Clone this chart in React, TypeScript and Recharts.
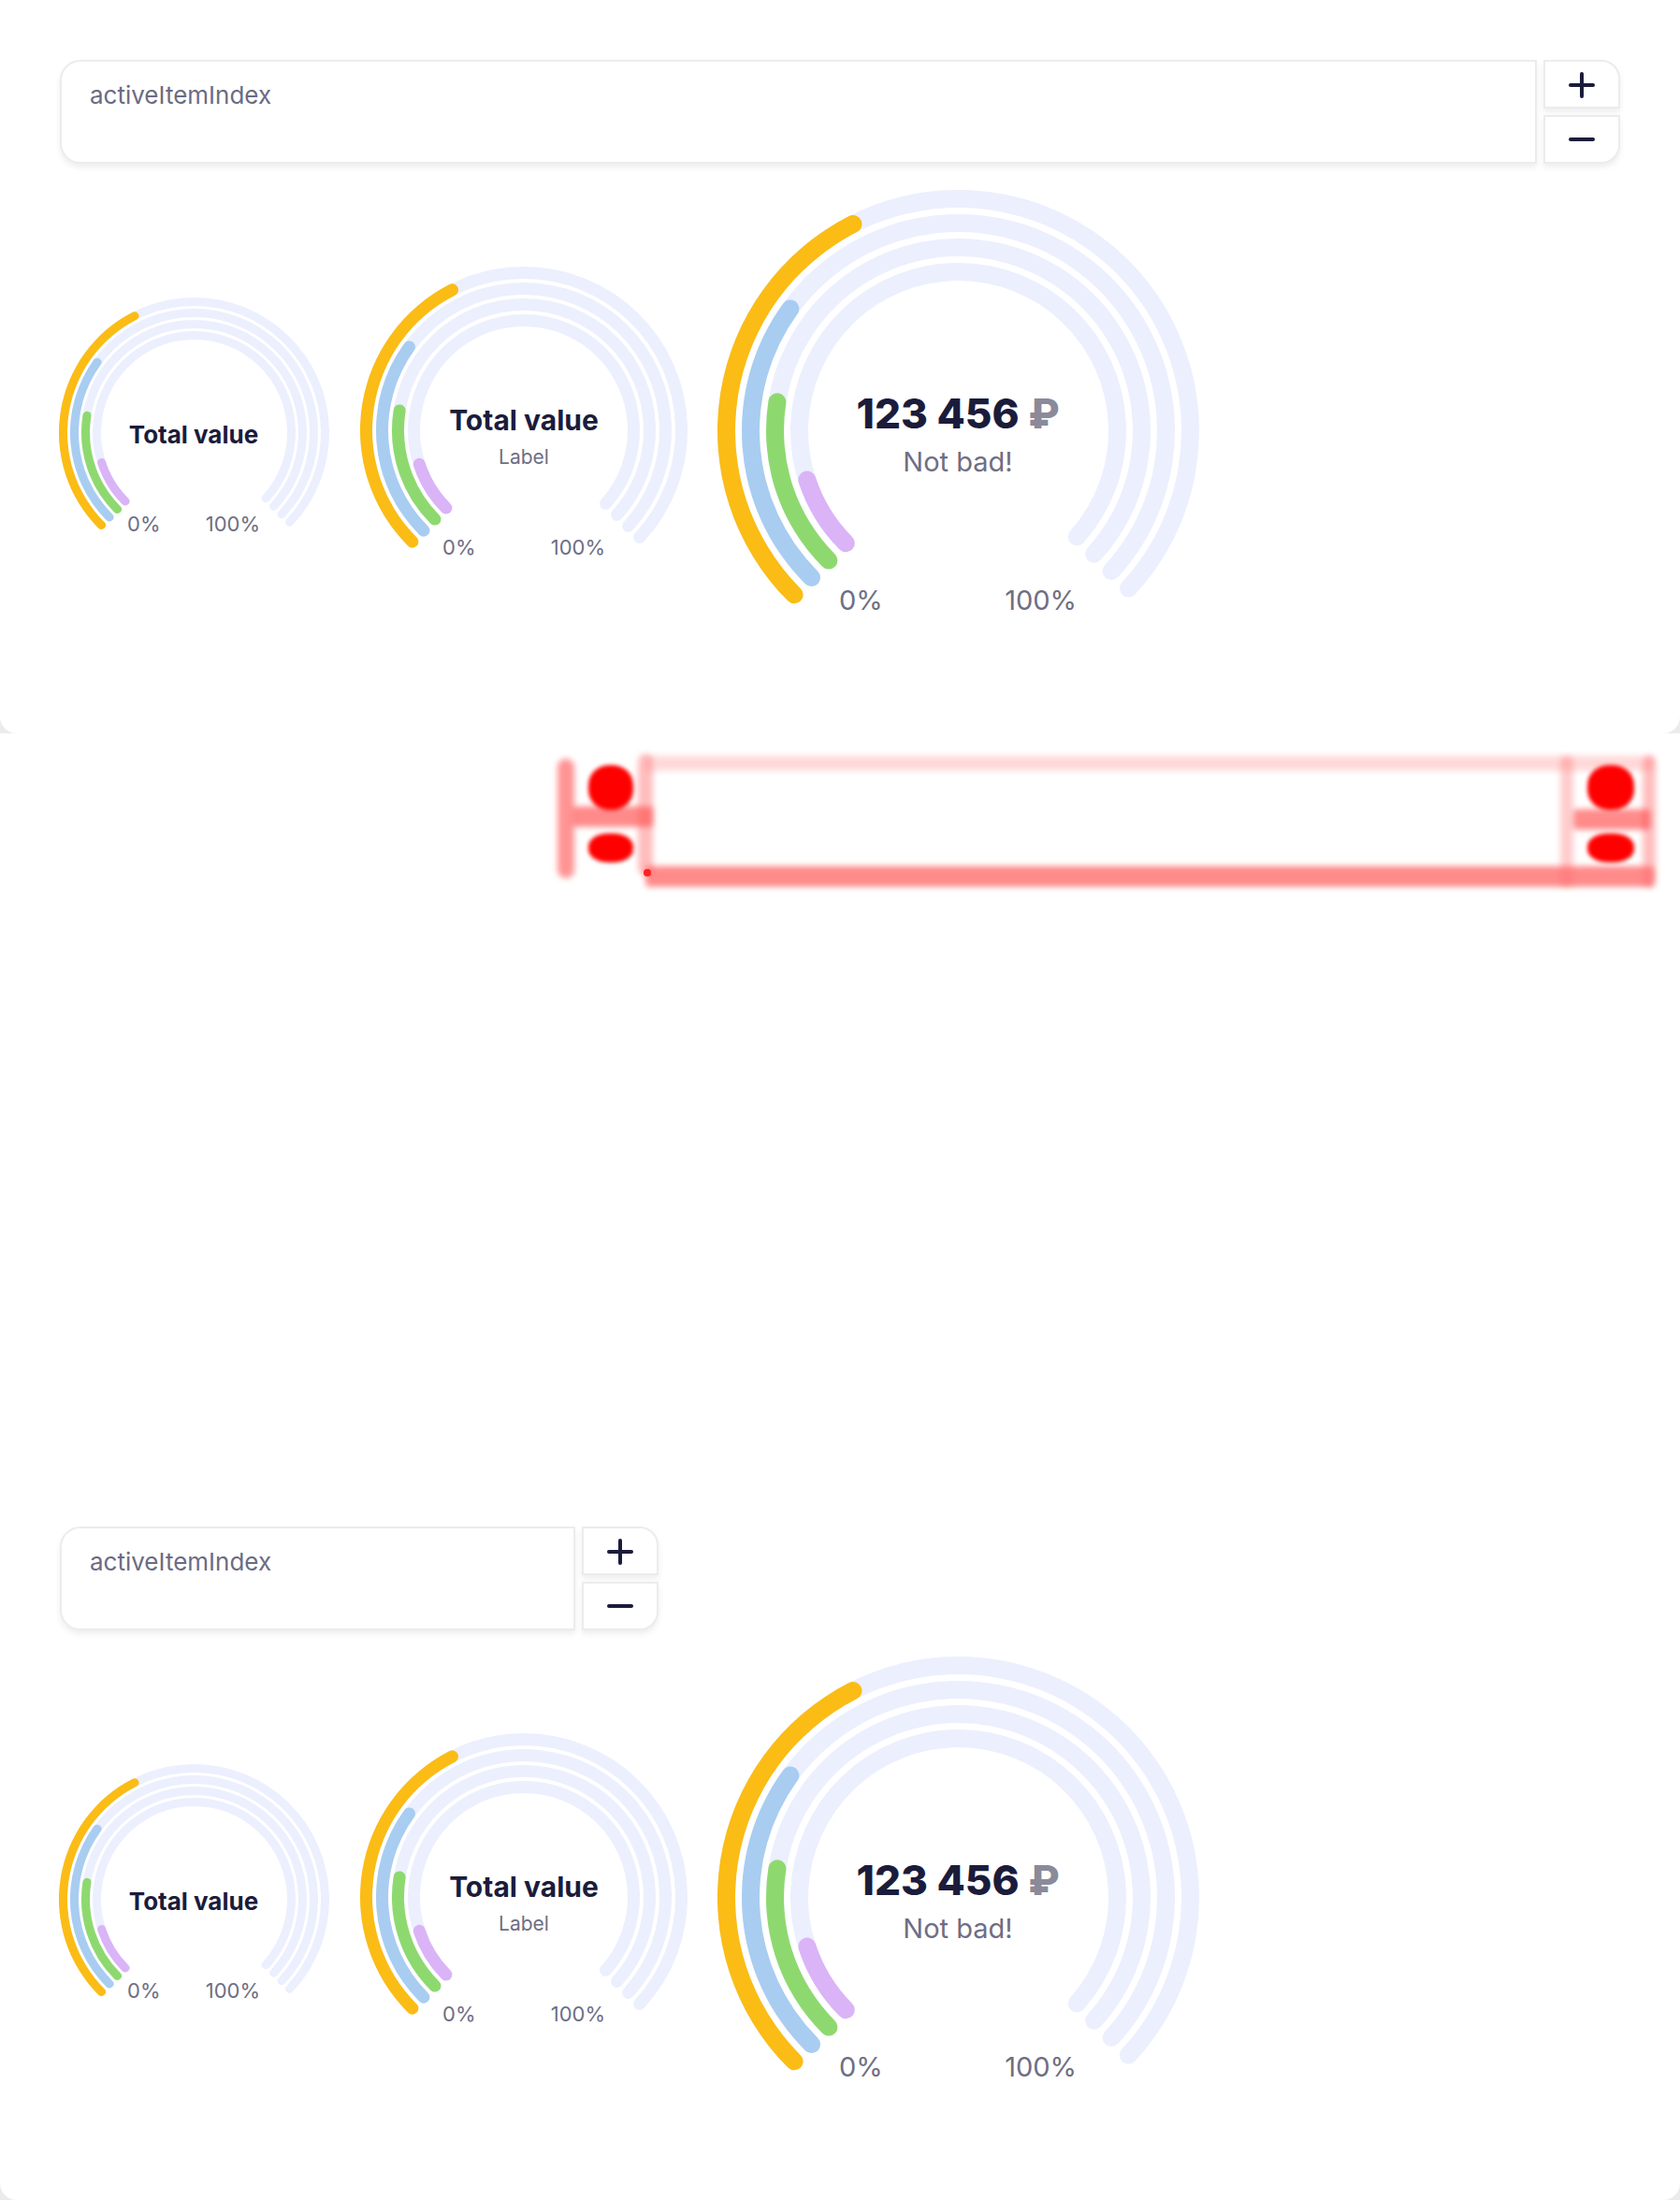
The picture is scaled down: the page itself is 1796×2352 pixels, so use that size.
import React from 'react';
import { RadialBarChart, RadialBar, PolarAngleAxis, Cell } from 'recharts';

// rings, inner to outer
const SEGMENTS = ['purple', 'green', 'blue', 'yellow'];
const VALUES = [10, 20, 30, 40];
const COLORS = ['#DAB4F6', '#8ED96F', '#A8CDF1', '#FBBC15'];
const TRACK = '#ECEFFD';
const TICKS = ['0%', '100%'];

const TITLE = 'Total value';
const SUB_LABEL = 'Label';
const BIG_VALUE = '123 456';
const CURRENCY = '₽';
const BIG_CAPTION = 'Not bad!';
const INPUT_LABEL = 'activeItemIndex';

const DARK = '#1B1C3B';
const GRAY = '#6E6E84';
const FONT = 'Inter, "Noto Sans", sans-serif';

const data = SEGMENTS.map((name, i) => ({ name, value: VALUES[i] }));

type GaugeProps = {
  cx: number;
  cy: number;
  r0: number;
  band: number;
  barSize: number;
  tickSize: number;
  tickX: number;
  tickY: number;
  children?: React.ReactNode;
};

function Gauge({ cx, cy, r0, band, barSize, tickSize, tickX, tickY, children }: GaugeProps) {
  const outer = r0 + band * SEGMENTS.length;
  const size = Math.ceil(outer * 2 + 20);
  const half = size / 2;
  const tickStyle: React.CSSProperties = {
    position: 'absolute',
    top: half + tickY,
    fontSize: tickSize,
    lineHeight: 1,
    color: GRAY,
    whiteSpace: 'nowrap',
  };
  return (
    <div style={{ position: 'absolute', left: cx - half, top: cy - half, width: size, height: size }}>
      <RadialBarChart
        width={size}
        height={size}
        cx={half}
        cy={half}
        innerRadius={r0}
        outerRadius={outer}
        startAngle={225}
        endAngle={-45}
        barSize={barSize}
        data={data}
        margin={{ top: 0, right: 0, bottom: 0, left: 0 }}
      >
        <PolarAngleAxis type="number" domain={[0, 100]} tick={false} axisLine={false} />
        <RadialBar
          dataKey="value"
          cornerRadius={barSize / 2}
          cornerIsExternal
          background={{ fill: TRACK, cornerRadius: barSize / 2, cornerIsExternal: true } as any}
          isAnimationActive={false}
        >
          {data.map((d, i) => (
            <Cell key={d.name} fill={COLORS[i]} />
          ))}
        </RadialBar>
      </RadialBarChart>
      <div style={{ ...tickStyle, left: half - tickX, transform: 'translateY(-50%)' }}>{TICKS[0]}</div>
      <div style={{ ...tickStyle, left: half + tickX, transform: 'translate(-100%, -50%)' }}>{TICKS[1]}</div>
      {children}
    </div>
  );
}

function CenterText({ dy, size, weight, color, children }: any) {
  return (
    <div
      style={{
        position: 'absolute',
        left: '50%',
        top: `calc(50% + ${dy}px)`,
        transform: 'translate(-50%, -50%)',
        fontSize: size,
        fontWeight: weight,
        color,
        lineHeight: 1,
        whiteSpace: 'nowrap',
      }}
    >
      {children}
    </div>
  );
}

function Stepper({ top, inputWidth }: { top: number; inputWidth: number }) {
  const left = 64;
  const h = 111;
  const btnLeft = left + inputWidth + 7;
  const box: React.CSSProperties = {
    position: 'absolute',
    background: '#fff',
    border: '2px solid #ECECEC',
    boxSizing: 'border-box',
    boxShadow: '0 4px 6px rgba(0,0,0,0.07)',
  };
  return (
    <>
      <div style={{ ...box, left, top, width: inputWidth, height: h, borderRadius: '22px 0 0 22px' }}>
        <div style={{ position: 'absolute', left: 30, top: 23, fontSize: 26, color: '#6B6B82', lineHeight: 1 }}>
          {INPUT_LABEL}
        </div>
      </div>
      <div style={{ ...box, left: btnLeft, top, width: 82, height: 52, borderRadius: '0 20px 0 0' }}>
        <svg width={78} height={48} style={{ position: 'absolute', left: 0, top: 0 }}>
          <line x1={27} y1={25} x2={51} y2={25} stroke={DARK} strokeWidth={4} strokeLinecap="round" />
          <line x1={39} y1={13} x2={39} y2={37} stroke={DARK} strokeWidth={4} strokeLinecap="round" />
        </svg>
      </div>
      <div style={{ ...box, left: btnLeft, top: top + 59, width: 82, height: 52, borderRadius: '0 0 20px 0' }}>
        <svg width={78} height={48} style={{ position: 'absolute', left: 0, top: 0 }}>
          <line x1={27} y1={24} x2={51} y2={24} stroke={DARK} strokeWidth={4} strokeLinecap="round" />
        </svg>
      </div>
    </>
  );
}

function Section({ top, inputWidth }: { top: number; inputWidth: number }) {
  return (
    <div style={{ position: 'absolute', left: 0, top, width: 1796, height: 784, background: '#EBEBEB' }}>
      <div style={{ position: 'absolute', inset: 0, background: '#fff', borderRadius: '0 0 18px 18px' }} />
      <Stepper top={64} inputWidth={inputWidth} />
      <Gauge cx={207} cy={462} r0={97.5} band={12} barSize={9} tickSize={22} tickX={71} tickY={98}>
        <CenterText dy={3} size={26} weight={700} color={DARK}>{TITLE}</CenterText>
      </Gauge>
      <Gauge cx={560} cy={460} r0={109} band={17} barSize={13} tickSize={22} tickX={87} tickY={125}>
        <CenterText dy={-11} size={30} weight={700} color={DARK}>{TITLE}</CenterText>
        <CenterText dy={28} size={21} weight={400} color={GRAY}>{SUB_LABEL}</CenterText>
      </Gauge>
      <Gauge cx={1024} cy={460} r0={156.5} band={26} barSize={19} tickSize={29} tickX={127} tickY={181}>
        <CenterText dy={-18} size={44} weight={800} color={DARK}>
          {BIG_VALUE} <span style={{ color: '#8A8A9A' }}>{CURRENCY}</span>
        </CenterText>
        <CenterText dy={33} size={29} weight={400} color={GRAY}>{BIG_CAPTION}</CenterText>
      </Gauge>
    </div>
  );
}

// blurred red diff overlay between the two sections
function DiffMark() {
  const soft = (l: number, t: number, w: number, h: number, c: string, r = 6): React.CSSProperties => ({
    position: 'absolute', left: l, top: t, width: w, height: h, background: c, borderRadius: r, filter: 'blur(3px)',
  });
  const blob = (l: number, t: number, w: number, h: number): React.CSSProperties => ({
    position: 'absolute', left: l, top: t, width: w, height: h, background: '#FF0000', borderRadius: '45%', filter: 'blur(2px)',
  });
  return (
    <div style={{ position: 'absolute', left: 0, top: 784, width: 1796, height: 784, background: '#fff' }}>
      <div style={soft(596, 27, 18, 128, 'rgba(255,60,60,0.55)', 9)} />
      <div style={soft(612, 78, 86, 22, 'rgba(255,60,60,0.6)', 4)} />
      <div style={blob(629, 34, 48, 48)} />
      <div style={blob(629, 107, 48, 31)} />
      <div style={soft(682, 22, 16, 130, 'rgba(255,90,90,0.4)', 8)} />
      <div style={soft(690, 24, 1078, 16, 'rgba(255,130,130,0.3)', 4)} />
      <div style={soft(690, 142, 1078, 22, 'rgba(255,60,60,0.6)', 4)} />
      <div style={{ position: 'absolute', left: 688, top: 145, width: 8, height: 8, background: '#FF2020', borderRadius: 4 }} />
      <div style={soft(1668, 24, 14, 140, 'rgba(255,110,110,0.35)', 6)} />
      <div style={soft(1756, 24, 14, 140, 'rgba(255,110,110,0.45)', 8)} />
      <div style={soft(1682, 81, 82, 22, 'rgba(255,60,60,0.6)', 4)} />
      <div style={blob(1697, 34, 50, 48)} />
      <div style={blob(1697, 107, 50, 31)} />
    </div>
  );
}

export default function App() {
  return (
    <div style={{ position: 'relative', width: 1796, height: 2352, fontFamily: FONT, overflow: 'hidden' }}>
      <style>{`body{margin:0;background:#fff}`}</style>
      <Section top={0} inputWidth={1579} />
      <DiffMark />
      <Section top={1568} inputWidth={551} />
    </div>
  );
}
